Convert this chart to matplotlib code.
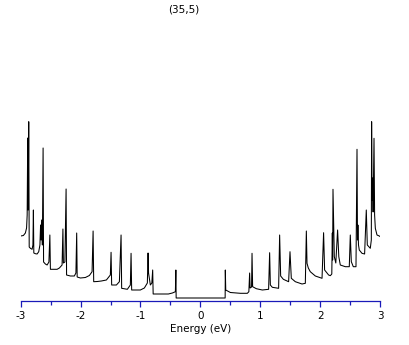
import matplotlib
matplotlib.use("Agg")
import matplotlib.pyplot as plt

title_text = "(35,5)"
x_label = "Energy (eV)"
major_ticks = [-3, -2, -1, 0, 1, 2, 3]
minor_ticks = [-2.5, -1.5, -0.5, 0.5, 1.5, 2.5]

# Density of states, negative-energy half
left_energy = [-3.0, -2.955, -2.922, -2.902, -2.892, -2.883, -2.876, -2.871, -2.866, -2.861,
               -2.858, -2.838, -2.810, -2.796, -2.788, -2.781, -2.755, -2.726, -2.699, -2.679,
               -2.668, -2.659, -2.651, -2.643, -2.638, -2.626, -2.618, -2.588, -2.559, -2.529,
               -2.513, -2.504, -2.454, -2.392, -2.354, -2.309, -2.295, -2.287, -2.262, -2.242,
               -2.234, -2.170, -2.104, -2.078, -2.065, -2.057, -2.003, -1.920, -1.853, -1.808,
               -1.791, -1.781, -1.720, -1.653, -1.569, -1.503, -1.491, -1.481, -1.402, -1.352,
               -1.324, -1.314, -1.219, -1.169, -1.157, -1.147, -1.002, -0.935, -0.885, -0.873,
               -0.865, -0.835, -0.810, -0.796, -0.788, -0.668, -0.534, -0.467, -0.417, -0.409,
               -0.404, 0.0]
left_dos = [0.62, 0.625, 0.65, 0.70, 0.83, 1.60, 0.88, 1.21, 1.763, 0.98,
            0.51, 0.497, 0.487, 0.53, 0.88, 0.45, 0.443, 0.44, 0.463, 0.53,
            0.73, 0.58, 0.78, 0.63, 0.53, 1.50, 0.36, 0.34, 0.33, 0.36,
            0.63, 0.287, 0.287, 0.287, 0.30, 0.33, 0.69, 0.35, 0.36, 1.09,
            0.23, 0.22, 0.22, 0.25, 0.65, 0.21, 0.20, 0.205, 0.225, 0.263,
            0.67, 0.163, 0.165, 0.17, 0.18, 0.23, 0.457, 0.13, 0.13, 0.163,
            0.63, 0.097, 0.087, 0.13, 0.447, 0.08, 0.08, 0.10, 0.15, 0.45,
            0.25, 0.13, 0.15, 0.28, 0.04, 0.04, 0.04, 0.05, 0.063, 0.28,
            0.0, 0.0]

# Density of states, positive-energy half
right_energy = [0.0, 0.414, 0.417, 0.424, 0.501, 0.668, 0.785, 0.810, 0.823, 0.831,
                0.855, 0.863, 0.873, 0.935, 1.035, 1.140, 1.157, 1.169, 1.202, 1.307,
                1.324, 1.341, 1.386, 1.474, 1.497, 1.519, 1.586, 1.698, 1.753, 1.770,
                1.781, 1.803, 1.836, 1.920, 2.032, 2.058, 2.075, 2.142, 2.170, 2.195,
                2.204, 2.209, 2.215, 2.237, 2.262, 2.292, 2.312, 2.337, 2.421, 2.487,
                2.504, 2.521, 2.554, 2.599, 2.616, 2.624, 2.631, 2.641, 2.654, 2.699,
                2.743, 2.771, 2.788, 2.838, 2.855, 2.860, 2.868, 2.876, 2.885, 2.900,
                2.910, 2.922, 2.950, 2.988, 3.0]
right_dos = [0.0, 0.0, 0.28, 0.08, 0.055, 0.047, 0.047, 0.063, 0.25, 0.10,
             0.11, 0.447, 0.113, 0.093, 0.08, 0.087, 0.453, 0.13, 0.107, 0.097,
             0.63, 0.22, 0.187, 0.163, 0.463, 0.197, 0.163, 0.14, 0.147, 0.67,
             0.347, 0.30, 0.263, 0.22, 0.197, 0.653, 0.28, 0.23, 0.223, 0.24,
             0.65, 0.38, 1.087, 0.413, 0.35, 0.68, 0.413, 0.33, 0.313, 0.313,
             0.63, 0.363, 0.313, 0.313, 1.487, 0.58, 0.73, 0.53, 0.48, 0.447,
             0.44, 0.88, 0.53, 0.497, 0.58, 1.763, 0.98, 1.20, 0.86, 1.597,
             0.83, 0.697, 0.63, 0.62, 0.615]

W, H = 409, 345
fig = plt.figure(figsize=(W / 100, H / 100), dpi=100)
ax = fig.add_axes([20.7 / W, (H - 300.5) / H, (380 - 20.7) / W, (300.5 - 20) / H])

ax.plot(left_energy + right_energy, left_dos + right_dos, color="black", lw=0.75)

ax.set_xlim(-3, 3)
ax.set_ylim(-0.025, 2.78)
for s in ["left", "right", "top"]:
    ax.spines[s].set_visible(False)
blue = "#1a1ab8"
ax.spines["bottom"].set_color(blue)
ax.spines["bottom"].set_linewidth(0.9)
ax.set_yticks([])
ax.set_xticks(major_ticks)
ax.set_xticks(minor_ticks, minor=True)
ax.set_xticklabels([f"{t:d}" for t in major_ticks])
ax.tick_params(axis="x", which="major", direction="out", length=4.5, width=0.9,
               color=blue, labelsize=7.5, labelcolor="black", pad=3)
ax.tick_params(axis="x", which="minor", direction="out", length=3.0, width=0.9,
               color=blue)
ax.set_xlabel(x_label, fontsize=7.5, labelpad=2)

fig.text(183.5 / W, 1 - 9.5 / H, title_text, ha="center", va="center", fontsize=7.5)

fig.savefig("out.png", dpi=100)
